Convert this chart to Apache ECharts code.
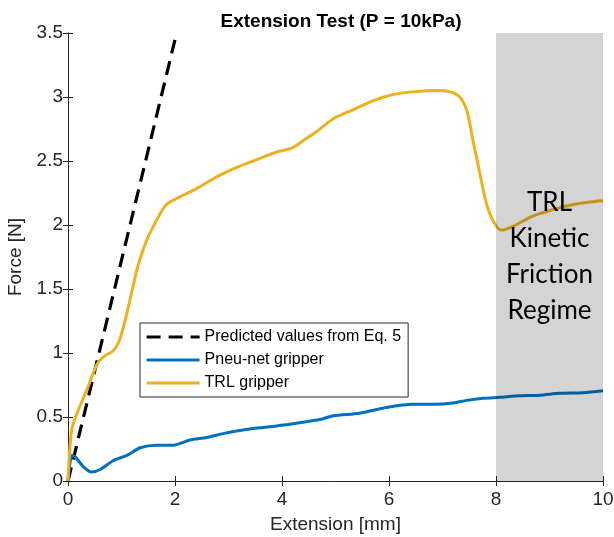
<!DOCTYPE html>
<html>
<head>
<meta charset="utf-8">
<script src="https://cdn.jsdelivr.net/npm/echarts@6/dist/echarts.min.js"></script>
<style>
html,body{margin:0;padding:0;background:#fff;}
#main{width:614px;height:537px;}
</style>
</head>
<body>
<div id="main"></div>
<script>
// predicted values from Eq. 5 (straight line)
var predX = [0, 2.03];
var predY = [0, 3.5];

// Pneu-net gripper
var pneuX = [0, 0.07, 0.13, 0.29, 0.44, 0.60, 0.85, 1.10, 1.35, 1.66, 1.97, 2.28, 2.59, 2.90, 3.15, 3.46, 3.90, 4.33, 4.71, 4.96, 5.45, 5.95, 6.45, 6.83, 7.20, 7.45, 7.76, 8.07, 8.44, 8.82, 9.19, 9.63, 10];
var pneuY = [0, 0.20, 0.19, 0.11, 0.07, 0.09, 0.16, 0.20, 0.26, 0.28, 0.28, 0.32, 0.34, 0.37, 0.39, 0.41, 0.43, 0.455, 0.48, 0.51, 0.53, 0.575, 0.60, 0.60, 0.61, 0.63, 0.646, 0.654, 0.666, 0.67, 0.685, 0.69, 0.705];

// TRL gripper
var trlX = [0, 0.07, 0.19, 0.35, 0.54, 0.66, 0.85, 0.97, 1.10, 1.20, 1.30, 1.47, 1.66, 1.84, 2.09, 2.34, 2.59, 2.84, 3.21, 3.59, 3.90, 4.18, 4.40, 4.65, 4.96, 5.33, 5.70, 6.08, 6.45, 6.89, 7.14, 7.32, 7.45, 7.57, 7.70, 7.82, 7.95, 8.10, 8.32, 8.69, 9.07, 9.44, 9.75, 10];
var trlY = [0, 0.40, 0.55, 0.71, 0.91, 0.97, 1.02, 1.11, 1.31, 1.49, 1.67, 1.88, 2.04, 2.16, 2.22, 2.27, 2.33, 2.39, 2.46, 2.52, 2.57, 2.60, 2.66, 2.73, 2.83, 2.90, 2.97, 3.02, 3.04, 3.05, 3.04, 3.00, 2.90, 2.66, 2.40, 2.17, 2.03, 1.96, 1.99, 2.07, 2.12, 2.16, 2.18, 2.19];

var regime = [8, 10];
var regimeText = 'TRL\nKinetic\nFriction\nRegime';

var xTicks = {min: 0, max: 10, interval: 2};
var yTicks = {min: 0, max: 3.5, interval: 0.5};

function pairs(xs, ys){
	var out = [];
	for(var i=0;i<xs.length;i++){
		out.push([xs[i], ys[i]]);
	}
	return out;
}

var axisColor = '#262626';
var font = "'Liberation Sans', Arial, sans-serif";

var myChart = echarts.init(document.getElementById('main'));
var option = {
	animation: false,
	title: {
		text: 'Extension Test (P = 10kPa)',
		left: 336, top: 7, textAlign: 'center',
		textStyle: {fontFamily: font, fontSize: 19, fontWeight: 'bold', color: '#000'}
	},
	grid: {left: 68, right: 11, top: 33, bottom: 56, containLabel: false, outerBoundsMode: 'none'},
	legend: {
		orient: 'vertical',
		left: 140, top: 323,
		padding: [6, 7, 6, 5],
		borderColor: axisColor, borderWidth: 1,
		backgroundColor: '#fff',
		itemWidth: 53, itemHeight: 14, itemGap: 7,
		itemStyle: {color: 'rgba(0,0,0,0)', borderWidth: 0, opacity: 0},
		lineStyle: {width: 3.2},
		textStyle: {fontFamily: font, fontSize: 16, color: '#000'},
		data: ['Predicted values from Eq. 5', 'Pneu-net gripper', 'TRL gripper'],
		z: 20
	},
	xAxis: [{
		type: 'value', min: xTicks.min, max: xTicks.max, interval: xTicks.interval,
		name: 'Extension [mm]', nameLocation: 'middle', nameGap: 34,
		nameTextStyle: {fontFamily: font, fontSize: 19, color: axisColor},
		axisLine: {show: true, lineStyle: {color: axisColor, width: 1}},
		axisTick: {show: true, inside: true, length: 5, lineStyle: {color: axisColor}},
		axisLabel: {fontFamily: font, fontSize: 19, color: axisColor, margin: 9},
		splitLine: {show: false}
	},{
		type: 'value', position: 'top', min: xTicks.min, max: xTicks.max, interval: xTicks.interval,
		axisLine: {show: true, lineStyle: {color: axisColor, width: 1}},
		axisTick: {show: true, inside: true, length: 5, lineStyle: {color: axisColor}},
		axisLabel: {show: false},
		splitLine: {show: false}
	}],
	yAxis: [{
		type: 'value', min: yTicks.min, max: yTicks.max, interval: yTicks.interval,
		name: 'Force [N]', nameLocation: 'middle', nameGap: 40,
		nameTextStyle: {fontFamily: font, fontSize: 19, color: axisColor},
		axisLine: {show: true, lineStyle: {color: axisColor, width: 1}},
		axisTick: {show: true, inside: true, length: 5, lineStyle: {color: axisColor}},
		axisLabel: {fontFamily: font, fontSize: 19, color: axisColor, margin: 5},
		splitLine: {show: false}
	},{
		type: 'value', position: 'right', min: yTicks.min, max: yTicks.max, interval: yTicks.interval,
		axisLine: {show: true, lineStyle: {color: axisColor, width: 1}},
		axisTick: {show: true, inside: true, length: 5, lineStyle: {color: axisColor}},
		axisLabel: {show: false},
		splitLine: {show: false}
	}],
	series: [
		{
			name: 'Predicted values from Eq. 5',
			type: 'line', symbol: 'none', z: 3,
			data: pairs(predX, predY),
			lineStyle: {color: '#000', width: 3.2, type: [14, 8]},
			itemStyle: {color: '#000'}
		},
		{
			name: 'Pneu-net gripper',
			type: 'line', symbol: 'none', smooth: 0.25, z: 3,
			data: pairs(pneuX, pneuY),
			lineStyle: {color: '#0072BD', width: 3},
			itemStyle: {color: '#0072BD'}
		},
		{
			name: 'TRL gripper',
			type: 'line', symbol: 'none', smooth: 0.3, z: 3,
			data: pairs(trlX, trlY),
			lineStyle: {color: '#EDB120', width: 3},
			itemStyle: {color: '#EDB120'}
		},
		{
			name: 'regime',
			type: 'line', data: [], z: 5, silent: true,
			markArea: {
				silent: true, z: 6,
				itemStyle: {color: 'rgba(0,0,0,0.17)'},
				label: {
					show: true, position: 'inside',
					formatter: regimeText,
					fontFamily: 'Lato, sans-serif', fontSize: 26, lineHeight: 36, color: '#000'
				},
				data: [[{xAxis: regime[0], yAxis: yTicks.min}, {xAxis: regime[1], yAxis: yTicks.max}]]
			}
		}
	]
};
myChart.setOption(option);
</script>
</body>
</html>
